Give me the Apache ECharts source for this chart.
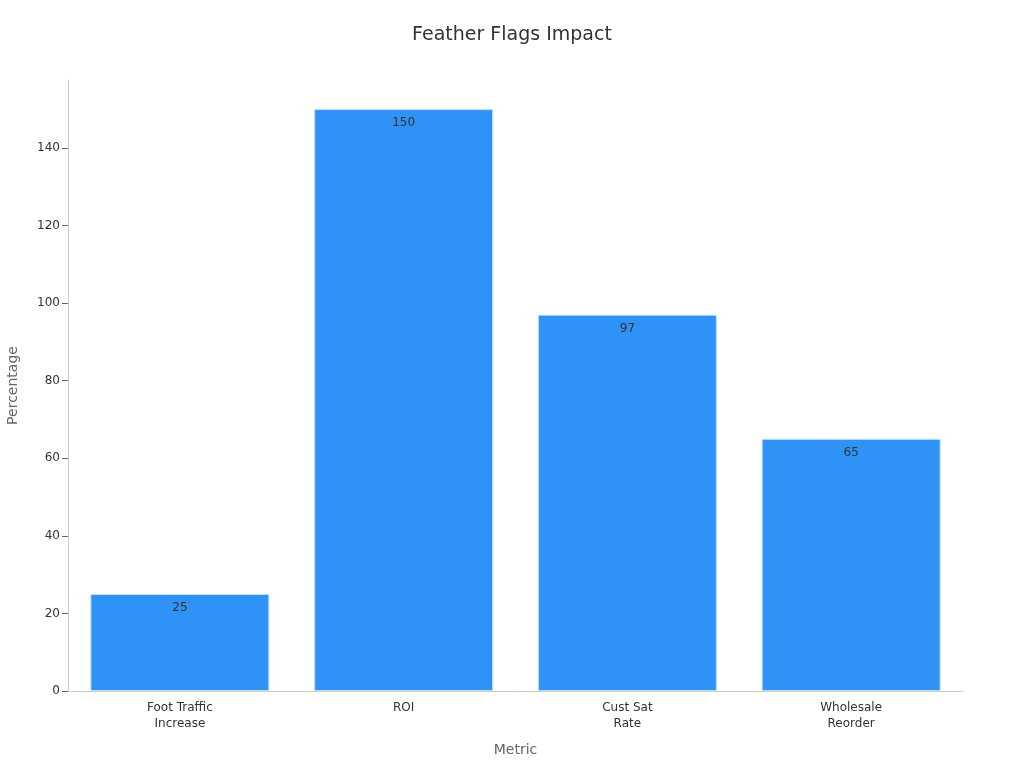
<!DOCTYPE html>
<html><head><meta charset="utf-8">
<script src="https://cdn.jsdelivr.net/npm/echarts@6/dist/echarts.min.js"></script>
<style>html,body{margin:0;padding:0;background:#fff}#c{width:1024px;height:768px}</style>
</head><body><div id="c"></div>
<script>
const categories = ["Foot Traffic\nIncrease", "ROI", "Cust Sat\nRate", "Wholesale\nReorder"];
const values = [25, 150, 97, 65];
const yTicks = [0, 20, 40, 60, 80, 100, 120, 140];

const chart = echarts.init(document.getElementById('c'));
chart.setOption({
  textStyle: {fontFamily: 'DejaVu Sans'},
  title: {text: 'Feather Flags Impact', left: 'center', top: 21,
    textStyle: {fontFamily: 'DejaVu Sans', fontSize: 19, fontWeight: 'normal', color: '#333'}},
  grid: {left: 68, right: 61, top: 80, bottom: 77, containLabel: false, outerBoundsMode: 'none'},
  xAxis: {type: 'category', data: categories, name: 'Metric', nameLocation: 'middle', nameGap: 52,
    nameTextStyle: {fontSize: 14, color: '#666'},
    axisLine: {lineStyle: {color: '#ccc'}},
    axisTick: {alignWithLabel: true, length: 5, lineStyle: {color: '#666'}},
    axisLabel: {fontSize: 12, color: '#333', lineHeight: 16, margin: 9}},
  yAxis: {type: 'value', min: 0, max: 157.5, interval: 20, name: 'Percentage', nameLocation: 'middle', nameGap: 48,
    nameTextStyle: {fontSize: 14, color: '#666'},
    axisLine: {show: true, lineStyle: {color: '#ccc'}},
    axisTick: {show: true, length: 6, lineStyle: {color: '#666'}},
    splitLine: {show: false},
    axisLabel: {fontSize: 12, color: '#333', showMaxLabel: false, margin: 8,
      formatter: v => yTicks.includes(v) ? String(v) : ''}},
  series: [{type: 'bar', data: values, barWidth: '80%',
    itemStyle: {color: '#2e92f7', borderColor: '#bfe0ff', borderWidth: 1},
    label: {show: true, position: 'insideTop', distance: 8, color: '#333', fontSize: 12}}]
});
</script></body></html>
